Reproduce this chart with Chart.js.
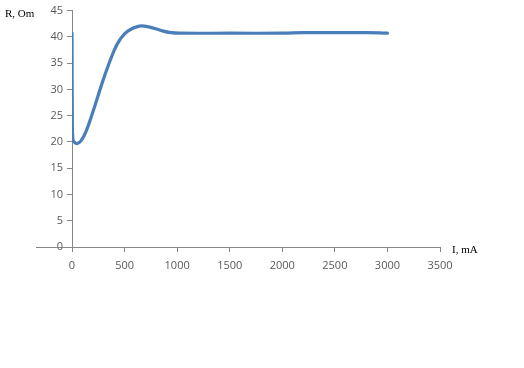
<!DOCTYPE html>
<html>
<head>
<meta charset="utf-8">
<script src="https://cdn.jsdelivr.net/npm/chart.js@4"></script>
<style>
html,body{margin:0;padding:0;background:#fff;}
#c{display:block;}
</style>
</head>
<body>
<canvas id="c" width="524" height="368"></canvas>
<script>
const currentMA = [0, 3, 8, 25, 50, 85, 130, 200, 300, 400, 460, 530, 640, 740, 840, 940, 1040, 1500, 2000, 2200, 2800, 3000];
const resistanceOm = [40.7, 25.0, 20.6, 19.9, 19.7, 20.2, 21.8, 25.8, 32.0, 37.4, 39.6, 41.1, 42.05, 41.85, 41.25, 40.8, 40.7, 40.7, 40.7, 40.8, 40.8, 40.7];
const xTicks = [0, 500, 1000, 1500, 2000, 2500, 3000, 3500];
const yTicks = [0, 5, 10, 15, 20, 25, 30, 35, 40, 45];
const yTitle = "R, Om";
const xTitle = "I, mA";

const points = currentMA.map((x, i) => ({x: x, y: resistanceOm[i]}));

const extras = {
  id: 'extras',
  afterDraw(chart) {
    const ctx = chart.ctx;
    const a = chart.chartArea;
    ctx.save();
    ctx.strokeStyle = '#868686';
    ctx.lineWidth = 1;
    ctx.beginPath();
    ctx.moveTo(36, Math.round(a.bottom) + 0.5);
    ctx.lineTo(a.left, Math.round(a.bottom) + 0.5);
    ctx.stroke();
    ctx.fillStyle = '#000';
    ctx.font = '11px "Liberation Serif", "Times New Roman", serif';
    ctx.textBaseline = 'middle';
    ctx.textAlign = 'left';
    ctx.fillText(yTitle, 5, 14);
    ctx.fillText(xTitle, 452, 250);
    ctx.restore();
  }
};

const tickFont = {family: '"Open Sans", "Liberation Sans", sans-serif', size: 11};

new Chart(document.getElementById('c'), {
  type: 'scatter',
  data: {
    datasets: [{
      data: points,
      showLine: true,
      borderColor: '#4A7EBB',
      borderWidth: 3.2,
      pointRadius: 0,
      tension: 0.4,
      borderCapStyle: 'round',
      borderJoinStyle: 'round',
      fill: false
    }]
  },
  options: {
    responsive: false,
    animation: false,
    layout: {padding: {top: 8, right: 84, left: 0, bottom: 0}},
    plugins: {legend: {display: false}, tooltip: {enabled: false}},
    scales: {
      x: {
        type: 'linear',
        min: 0, max: 3500,
        afterBuildTicks(s) { s.ticks = xTicks.map(v => ({value: v})); },
        afterFit(s) { s.height = 368 - 247; },
        grid: {drawOnChartArea: false, drawTicks: true, tickLength: 5, color: '#868686'},
        border: {color: '#868686'},
        ticks: {color: '#595959', font: tickFont, padding: 7, maxRotation: 0, callback: v => String(v)}
      },
      y: {
        type: 'linear',
        min: 0, max: 45,
        afterBuildTicks(s) { s.ticks = yTicks.map(v => ({value: v})); },
        afterFit(s) { s.width = 72; },
        grid: {drawOnChartArea: false, drawTicks: true, tickLength: 5, color: '#868686'},
        border: {color: '#868686'},
        ticks: {color: '#595959', font: tickFont, padding: 4, callback: v => String(v)}
      }
    }
  },
  plugins: [extras]
});
</script>
</body>
</html>
